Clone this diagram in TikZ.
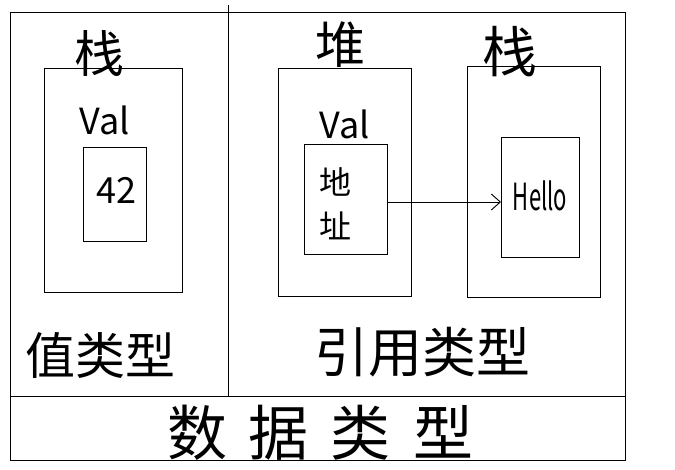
\documentclass[tikz,border=0pt]{standalone}
\usepackage{fontspec}
\setmainfont{Noto Sans CJK SC}
\usetikzlibrary{arrows.meta}
\begin{document}
\begin{tikzpicture}[x=1pt,y=-1pt,line width=0.9pt,
  box/.style={draw,inner sep=0pt,outer sep=0pt,anchor=north west},
  lbl/.style={inner sep=0pt,font=\fontsize{50}{50}\selectfont},
  small/.style={inner sep=0pt,font=\fontsize{36}{36}\selectfont}]
\useasboundingbox (0,0) rectangle (675,470);
\fill[white] (0,0) rectangle (675,470);
% frame
\node[box,minimum width=615pt,minimum height=448pt] (outer) at (10,12) {};
\coordinate (divtop) at (228,5);
\coordinate (divbot) at (228,396);
\coordinate (hl) at (10,396);
\coordinate (hr) at (625,396);
\draw (divtop) -- (divbot);
\draw (hl) -- (hr);
% value type
\node[box,minimum width=138pt,minimum height=224pt] (vstack) at (44,68) {};
\node[box,minimum width=63pt,minimum height=94pt] (vbox) at (83,147) {};
\node[lbl] (vstacklbl) at (99,54) {栈};
\node[small] (vval) at (105,120) {Val};
\node[small] (v42) at (116,190) {42};
\node[lbl] (vtype) at (100,355) {值类型};
% reference type
\node[box,minimum width=133pt,minimum height=228pt] (heap) at (278,68) {};
\node[box,minimum width=83pt,minimum height=110pt] (addr) at (304,144) {};
\node[lbl] (heaplbl) at (340,45) {堆};
\node[small] (rval) at (345,124) {Val};
\node[inner sep=0pt,font=\fontsize{32}{44}\selectfont,align=center] (addrtxt) at (335,204) {地\\址};
\node[box,minimum width=133pt,minimum height=231pt] (rstack) at (467,66) {};
\node[box,minimum width=78pt,minimum height=120pt] (hellobox) at (501,137) {};
\node[lbl,font=\fontsize{55}{55}\selectfont] (rstacklbl) at (510,52) {栈};
\node[inner sep=0pt,font=\fontsize{22}{22}\selectfont] (hello) at (540,196) {\scalebox{1}[1.7]{Hello}};
\draw[-{Straight Barb[length=9pt,width=16pt]}] (addr.east |- 0,202) -- (hellobox.west |- 0,202);
\node[lbl,font=\fontsize{54}{54}\selectfont] (rtype) at (422,352) {引用类型};
% bottom
\node[lbl,font=\fontsize{60}{60}\selectfont] (dtype) at (320,433) {数\hspace{22pt}据\hspace{22pt}类\hspace{22pt}型};
\end{tikzpicture}
\end{document}
